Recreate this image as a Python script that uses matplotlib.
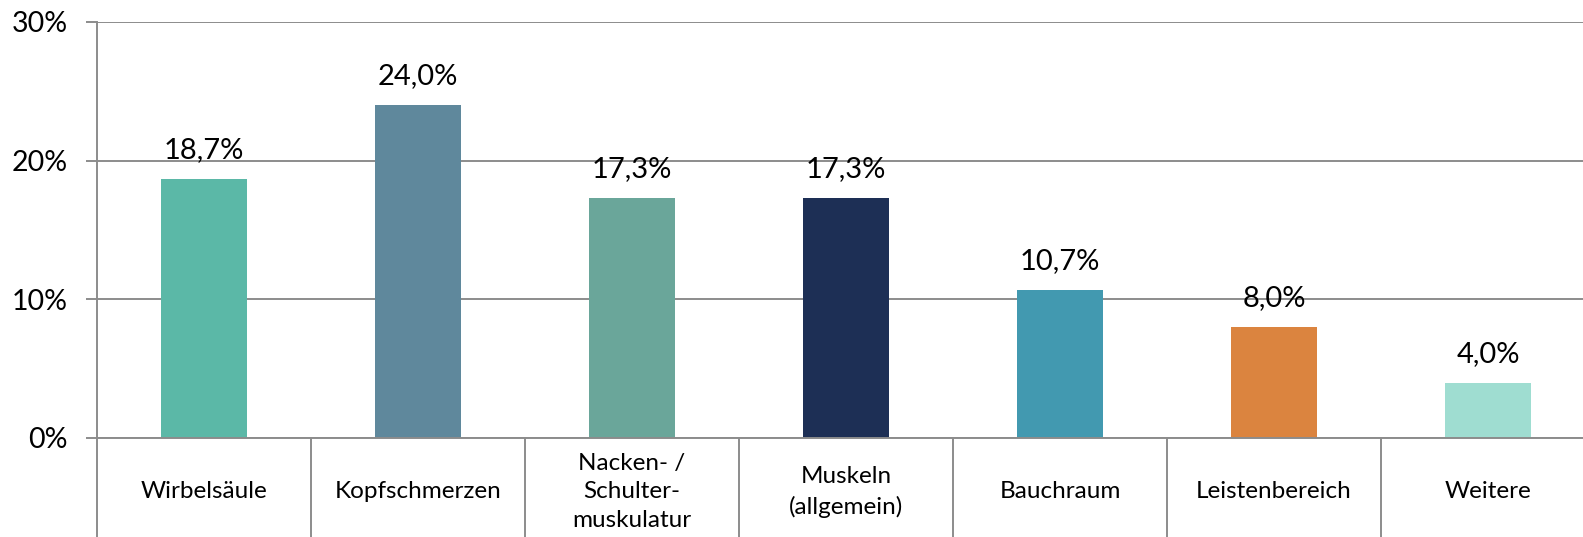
import matplotlib
matplotlib.use('Agg')
import matplotlib.pyplot as plt

categories = ['Wirbelsäule', 'Kopfschmerzen', 'Nacken- /\nSchulter-\nmuskulatur',
              'Muskeln\n(allgemein)', 'Bauchraum', 'Leistenbereich', 'Weitere']
values = [18.7, 24.0, 17.3, 17.3, 10.7, 8.0, 4.0]
colors = ['#5BB8A7', '#5F889C', '#6AA69A', '#1D2F55', '#4299B0', '#DB843F', '#9FDDD1']
yticks = [0, 10, 20, 30]

plt.rcParams['font.family'] = ['Lato', 'DejaVu Sans']
gray = '#8C8C8C'

W, H = 1583, 537
fig = plt.figure(figsize=(W / 100, H / 100), dpi=100)
# axes runs past the right edge like in the source image
ax = fig.add_axes([97 / W, (H - 438) / H, 7 * 214 / W, 416 / H])

x = list(range(len(values)))
ax.bar(x, values, width=0.4, color=colors, zorder=3)
ax.set_xlim(-0.5, len(values) - 0.5)
ax.set_ylim(0, 30)

ax.set_yticks(yticks)
ax.set_yticklabels([f'{t}%' for t in yticks], fontsize=20.5)
ax.yaxis.grid(True, color=gray, lw=1.4, zorder=0)
ax.tick_params(axis='y', length=8, width=1.4, color=gray, pad=13)
ax.set_xticks([])

for s in ['top', 'right']:
    ax.spines[s].set_visible(False)
for s in ['left', 'bottom']:
    ax.spines[s].set_color(gray)
    ax.spines[s].set_linewidth(1.4)
    ax.spines[s].set_zorder(4)

for xi, v in zip(x, values):
    ax.annotate(f'{v:.1f}%'.replace('.', ','), (xi, v), xytext=(0, 15),
                textcoords='offset points', ha='center', va='baseline', fontsize=21)

tr = ax.get_xaxis_transform()
lower = -100 / 416
for i in range(len(values) + 1):
    ax.plot([i - 0.5, i - 0.5], [0, lower], transform=tr, color=gray,
            lw=1.4, clip_on=False)
for xi, c in zip(x, categories):
    ax.text(xi, -54 / 416, c, transform=tr, ha='center', va='center',
            fontsize=17.5, linespacing=1.45)

plt.savefig('out.png', dpi=100)
